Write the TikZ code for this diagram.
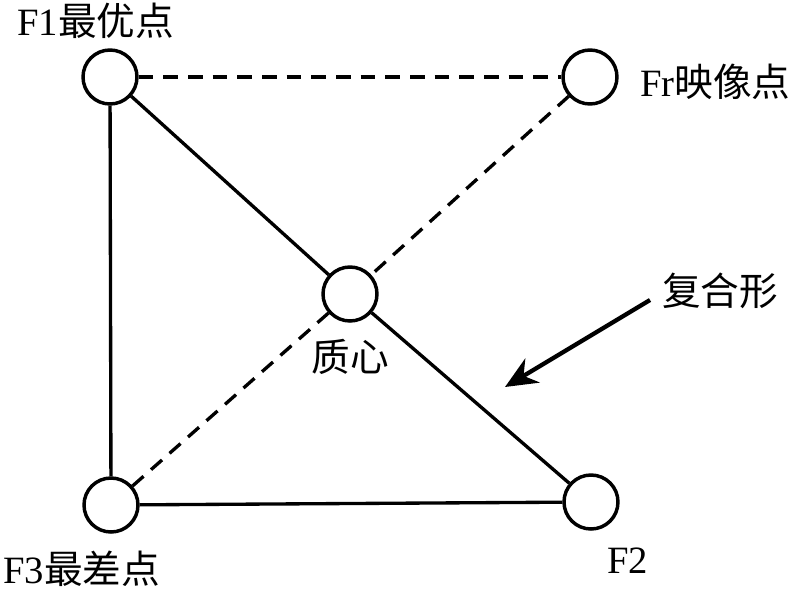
\documentclass[tikz,border=0pt]{standalone}
\usepackage{fontspec}
\setmainfont{Liberation Serif}
\newfontfamily\latn{Liberation Serif}
\newfontfamily\cjk{Noto Sans CJK SC}
\usetikzlibrary{arrows.meta,positioning}
\tikzset{
  pt/.style={circle, draw, line width=2.6pt, minimum size=40.5pt, inner sep=0pt},
  edgeln/.style={line width=2.5pt},
  dashln/.style={line width=2.5pt, dash pattern=on 11pt off 7.5pt},
  lbl/.style={inner sep=0pt, font=\latn\fontsize{29pt}{34pt}\selectfont},
  pointer/.style={-{Stealth[length=24pt,width=21pt]}, line width=3.2pt},
}

\begin{document}
\begin{tikzpicture}[x=0.75pt, y=-0.75pt]
    \useasboundingbox (0,0) rectangle (800,594);
    % simplex vertices
    \node[pt] (f1) at (110,77) {};
    \node[pt] (fr) at (590,77) {};
    \node[pt] (c)  at (350,294) {};
    \node[pt] (f3) at (111,505) {};
    \node[pt] (f2) at (591,502) {};
    % edges
    \draw[edgeln] (f1) -- (f3);
    \draw[edgeln] (f3) -- (f2);
    \draw[edgeln] (f1) -- (c);
    \draw[edgeln] (c) -- (f2);
    % reflection through centroid
    \draw[dashln] (f1) -- (fr);
    \draw[dashln] (fr) -- (c);
    \draw[dashln] (c) -- (f3);
    % labels
    \node[lbl, anchor=base west] (f1lbl) at (17,35) {F1{\cjk 最优点}};
    \node[lbl, anchor=base west] (frlbl) at (640,96) {Fr{\cjk 映像点}};
    \node[lbl, anchor=base] (clbl) at (350,371) {\cjk 质心};
    \node[lbl, anchor=base west] (f3lbl) at (3,583) {F3{\cjk 最差点}};
    \node[lbl, anchor=base west] (f2lbl) at (607,573) {F2};
    \node[lbl, anchor=base west] (shape) at (662,305) {\cjk 复合形};
    % arrow to the complex
    \coordinate (tail) at (650,300);
    \coordinate (tip) at (505,387);
    \draw[pointer] (tail) -- (tip);
\end{tikzpicture}
\end{document}
